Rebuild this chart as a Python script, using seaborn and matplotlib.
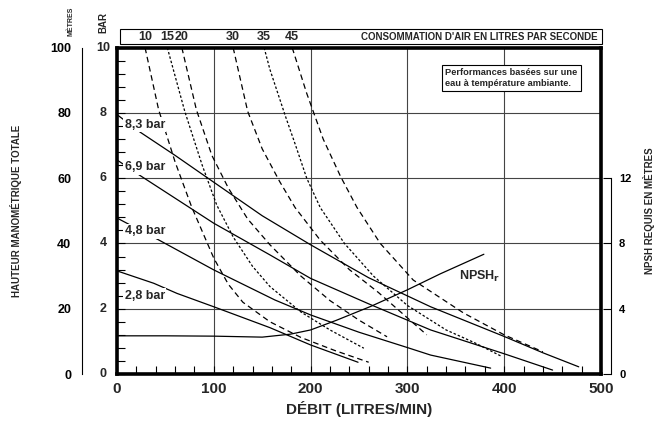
import matplotlib
matplotlib.use('Agg')
import matplotlib.pyplot as plt
from matplotlib.ticker import MultipleLocator, NullFormatter
from matplotlib.patches import Rectangle
import seaborn as sns

# débit (L/min) / hauteur (bar) for the pressure curves
p83_x = [0, 24, 60, 94, 150, 200, 260, 324, 400, 440, 477]
p83_y = [7.95, 7.41, 6.7, 6.0, 4.85, 3.96, 2.95, 2.06, 1.15, 0.65, 0.22]
p69_x = [0, 24, 100, 158, 200, 260, 324, 400, 450]
p69_y = [6.56, 6.08, 4.62, 3.65, 2.93, 2.15, 1.35, 0.62, 0.12]
p48_x = [0, 43, 100, 163, 200, 250, 300, 324, 386]
p48_y = [4.78, 4.11, 3.19, 2.27, 1.81, 1.28, 0.81, 0.58, 0.18]
p28_x = [0, 38, 62, 100, 158, 200, 249]
p28_y = [3.16, 2.78, 2.47, 2.06, 1.42, 0.89, 0.36]
pressure_labels = ['8,3 bar', '6,9 bar', '4,8 bar', '2,8 bar']
label_y = [7.64, 6.33, 4.37, 2.4]

# air consumption curves (l/s)
air_labels = ['10', '15', '20', '30', '35', '45']
a10_x = [29, 43, 60, 77, 100, 115, 130, 158, 190, 225, 260]
a10_y = [10, 8.1, 6.5, 5.13, 3.55, 2.75, 2.2, 1.6, 1.12, 0.72, 0.36]
a15_x = [52, 70, 88, 103, 120, 140, 158, 190, 220, 255]
a15_y = [10, 8.05, 6.4, 5.18, 4.2, 3.3, 2.68, 1.9, 1.35, 0.79]
a20_x = [67, 82, 98, 115, 135, 158, 190, 220, 250, 279]
a20_y = [10, 8.1, 6.7, 5.7, 4.75, 3.96, 3.0, 2.25, 1.65, 1.14]
a30_x = [120, 135, 150, 168, 184, 210, 240, 270, 295, 320]
a30_y = [10, 8.05, 6.9, 5.9, 5.1, 4.1, 3.2, 2.5, 1.85, 1.2]
a35_x = [152, 158, 174, 184, 196, 210, 235, 265, 300, 340, 370, 398]
a35_y = [10, 9.33, 7.9, 7.05, 6.0, 5.1, 4.0, 3.0, 2.1, 1.35, 0.95, 0.53]
a45_x = [181, 196, 213, 231, 248, 272, 306, 358, 400, 440]
a45_y = [10, 8.6, 7.2, 6.05, 5.1, 4.0, 2.88, 1.87, 1.2, 0.68]
air_styles = [(0, (4.5, 3)), (0, (2, 1.6)), (0, (4.5, 3)),
              (0, (4.5, 3)), (0, (2, 1.6)), (0, (4.5, 3))]

# NPSH requis (m)
npsh_x = [0, 50, 100, 150, 179, 200, 227, 262, 300, 334, 379]
npsh_y = [2.34, 2.34, 2.32, 2.26, 2.44, 2.7, 3.3, 4.14, 5.16, 6.14, 7.34]

# left scale: bar ticks and the matching metres
bar_ticks = [0, 2, 4, 6, 8, 10]
metre_labels = ['0', '20', '40', '60', '80', '100']

sns.set_theme(style='white')
plt.rcParams['font.family'] = ['Liberation Sans', 'DejaVu Sans']
plt.rcParams['font.weight'] = 'bold'

W, H = 664, 423
fig = plt.figure(figsize=(W / 100, H / 100), dpi=100)
rect = [117 / W, (H - 374) / H, 484 / W, 326.3 / H]
ax = fig.add_axes(rect)

solid = dict(color='black', lw=0.9)
for xs, ys in [(p83_x, p83_y), (p69_x, p69_y), (p48_x, p48_y), (p28_x, p28_y)]:
    sns.lineplot(x=xs, y=ys, ax=ax, sort=False, estimator=None, **solid)

air = [(a10_x, a10_y), (a15_x, a15_y), (a20_x, a20_y),
       (a30_x, a30_y), (a35_x, a35_y), (a45_x, a45_y)]
for (xs, ys), ls in zip(air, air_styles):
    sns.lineplot(x=xs, y=ys, ax=ax, sort=False, estimator=None,
                 color='black', lw=0.9, linestyle=ls)

for lab, ly in zip(pressure_labels, label_y):
    ax.text(8, ly, lab, fontsize=9, fontweight='bold', ha='left', va='center',
            bbox=dict(facecolor='white', edgecolor='none', pad=1.0), zorder=5)

ax.set_xlim(0, 500)
ax.set_ylim(0, 10)
ax.xaxis.set_major_locator(MultipleLocator(100))
ax.xaxis.set_minor_locator(MultipleLocator(20))
ax.yaxis.set_major_locator(MultipleLocator(2))
ax.yaxis.set_minor_locator(MultipleLocator(0.4))
ax.yaxis.set_major_formatter(NullFormatter())
ax.tick_params(axis='both', which='both', direction='in', length=6, width=0.8,
               color='black')
ax.tick_params(axis='x', which='major', labelsize=11, pad=6)
ax.tick_params(axis='y', which='both', left=True)
ax.tick_params(axis='x', which='both', bottom=True)
ax.grid(True, which='major', color='#444444', lw=0.8)
for s in ax.spines.values():
    s.set_visible(True)
    s.set_color('black')
    s.set_linewidth(2.6)
ax.set_xlabel('DÉBIT (LITRES/MIN)', fontsize=11, fontweight='bold', labelpad=3)
ax.set_ylabel('')

# NPSH scale on the right
ax2 = ax.twinx()
sns.lineplot(x=npsh_x, y=npsh_y, ax=ax2, sort=False, estimator=None, **solid)
ax2.set_ylim(0, 20)
ax2.set_yticks([0, 4, 8, 12])
ax2.spines['right'].set_position(('outward', 7))
ax2.spines['right'].set_bounds(0, 12)
ax2.spines['right'].set_linewidth(0.8)
ax2.spines['right'].set_color('black')
for k in ['left', 'top', 'bottom']:
    ax2.spines[k].set_visible(False)
ax2.tick_params(axis='y', direction='in', length=6, width=0.8, labelsize=8,
                pad=6, colors='black')
ax2.set_ylabel('NPSH REQUIS EN MÈTRES', fontsize=7, fontweight='bold', labelpad=8)
ax2.text(375, 5.95, r'NPSH$_\mathbf{r}$', fontsize=9, fontweight='bold',
         ha='center', va='center')

# metres / bar scale on the left
ax3 = fig.add_axes(rect)
ax3.patch.set_visible(False)
for k in ['right', 'top', 'bottom']:
    ax3.spines[k].set_visible(False)
ax3.spines['left'].set_position(('outward', 25))
ax3.spines['left'].set_linewidth(0.8)
ax3.spines['left'].set_color('black')
ax3.set_xlim(0, 500)
ax3.set_ylim(0, 10)
ax3.set_xticks([])
ax3.set_yticks(bar_ticks)
ax3.set_yticklabels(metre_labels)
ax3.tick_params(axis='y', direction='in', length=10, width=0.8, labelsize=9,
                pad=8, colors='black')
for b in bar_ticks:
    ax3.text(-14 / 0.967, b, str(b), fontsize=9, fontweight='bold',
             ha='center', va='center')
ax3.set_ylabel('HAUTEUR MANOMÉTRIQUE TOTALE', fontsize=7, fontweight='bold',
               labelpad=20)
fig.text(71 / W, 1 - 21 / H, 'MÈTRES', rotation=90, fontsize=5,
         fontweight='bold', ha='center', va='center')
fig.text(103 / W, 1 - 22.5 / H, 'BAR', rotation=90, fontsize=7,
         fontweight='bold', ha='center', va='center')

# air consumption header box
ax.add_patch(Rectangle((0.006, 1.011), 0.996, 0.046, transform=ax.transAxes,
                       fill=False, edgecolor='black', lw=0.8, clip_on=False))
for lab, (xs, ys) in zip(air_labels, air):
    ax.text(xs[0], 1.034, lab, transform=ax.get_xaxis_transform(), fontsize=9,
            fontweight='bold', ha='center', va='center')
ax.text(0.992, 1.034, "CONSOMMATION D'AIR EN LITRES PAR SECONDE",
        transform=ax.transAxes, fontsize=7, fontweight='bold',
        ha='right', va='center')

ax.text(0.678, 0.937, 'Performances basées sur une\neau à température ambiante.',
        transform=ax.transAxes, fontsize=6.7, fontweight='bold', ha='left',
        va='top', linespacing=1.25, zorder=6,
        bbox=dict(facecolor='white', edgecolor='black', lw=0.8,
                  boxstyle='square,pad=0.35'))

fig.savefig('out.png', dpi=100)
